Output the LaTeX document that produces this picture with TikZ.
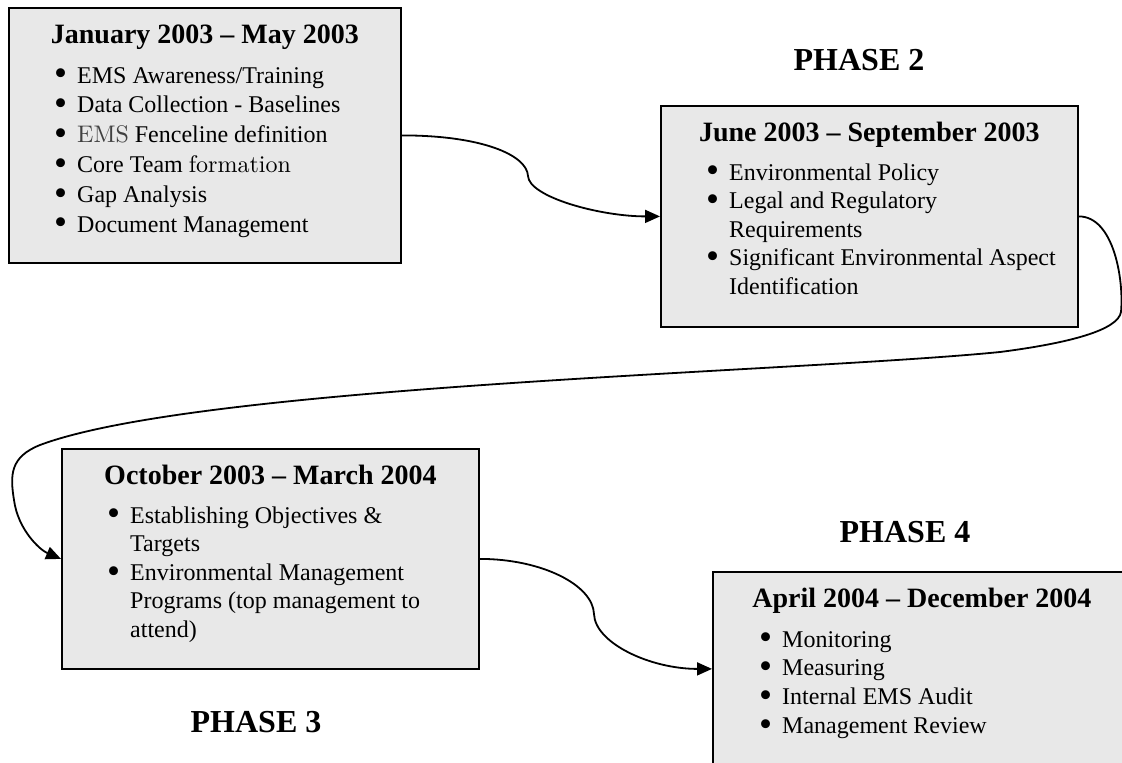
\documentclass[tikz,border=0pt]{standalone}
\usepackage{fontspec}
\setmainfont{Liberation Serif}
\newfontfamily\lmr{lmroman10-regular.otf}
\usetikzlibrary{arrows.meta,calc}
\definecolor{panel}{RGB}{232,232,232}
\tikzset{
  phasebox/.style={draw=black, fill=panel, line width=1.8pt, rectangle, inner sep=0pt, anchor=north west},
  heading/.style={font=\fontsize{28}{34}\selectfont\bfseries, anchor=base, inner sep=0pt},
  items/.style={anchor=base west, inner sep=0pt},
  phaselabel/.style={font=\fontsize{32}{38}\selectfont\bfseries, anchor=base, inner sep=0pt},
  link/.style={line width=1.8pt, -{Triangle[length=15pt,width=13pt]}},
}
% a round list bullet, a little larger than the text face's own
\newcommand\dotmark{\raisebox{-0.12em}{\scalebox{1.55}{\textbullet}}}
% one bulleted entry with a hanging indent for wrapped lines
\newcommand\itm[1]{\par\hangindent=22pt\hangafter=1\noindent\makebox[22pt][l]{\hspace{-1pt}\dotmark}#1\par}
% a block of entries; #1 = line pitch, #2 = entries
\newcommand\entries[2]{\begin{minipage}[t]{380pt}\fontsize{24}{#1}\selectfont\parskip=0pt\parindent=0pt #2\end{minipage}}

\begin{document}
\begin{tikzpicture}[x=1pt, y=-1pt]
  \useasboundingbox (0,0) rectangle (1122,763);
  \fill[white] (0,0) rectangle (1122,763);
  \clip (0,0) rectangle (1122,763);

  % phase boxes
  \node[phasebox, minimum width=392pt, minimum height=255pt] (b1) at (8,7) {};
  \node[phasebox, minimum width=417pt, minimum height=221pt] (b2) at (660,105) {};
  \node[phasebox, minimum width=417pt, minimum height=220pt] (b3) at (61,448) {};
  \node[phasebox, minimum width=418pt, minimum height=194pt] (b4) at (712,571) {};

  % headings
  \node[heading] (h1) at ($(b1.north)+(0,36)$) {January 2003 – May 2003};
  \node[heading] (h2) at ($(b2.north)+(0,36)$) {June 2003 – September 2003};
  \node[heading] (h3) at ($(b3.north)+(0,36)$) {October 2003 – March 2004};
  \node[heading] (h4) at ($(b4.north)+(0,36)$) {April 2004 – December 2004};

  % bulleted contents
  \node[items] (l1) at ($(b1.north west)+(47,76)$) {\entries{29.8pt}{%
    \itm{EMS Awareness/Training}
    \itm{Data Collection - Baselines}
    \itm{{\lmr\color{black!75}EMS} Fenceline definition}
    \itm{Core Team {\lmr formation}}
    \itm{Gap Analysis}
    \itm{Document Management}}};
  \node[items] (l2) at ($(b2.north west)+(47,75)$) {\entries{28.6pt}{%
    \itm{Environmental Policy}
    \itm{Legal and Regulatory\\Requirements}
    \itm{Significant Environmental Aspect\\Identification}}};
  \node[items] (l3) at ($(b3.north west)+(47,75)$) {\entries{28.6pt}{%
    \itm{Establishing Objectives \&\\Targets}
    \itm{Environmental Management\\Programs (top management to\\attend)}}};
  \node[items] (l4) at ($(b4.north west)+(48,76)$) {\entries{28.8pt}{%
    \itm{Monitoring}
    \itm{Measuring}
    \itm{Internal EMS Audit}
    \itm{Management Review}}};

  % phase captions
  \node[phaselabel] (p2) at (859,70) {PHASE 2};
  \node[phaselabel] (p3) at (256,732) {PHASE 3};
  \node[phaselabel] (p4) at (905,542) {PHASE 4};

  % connectors
  \draw[link] (b1.east) .. controls +(80,0) and (527,155) .. (528,176)
              .. controls (529,197) and ($(b2.west)+(-60,0)$) .. (b2.west);
  \draw[link] (b2.east) .. controls +(35,0) and (1124,280) .. (1121,312)
              .. controls (1118,330) and (1070,343) .. (1000,352)
              .. controls (800,372) and (200,385) .. (40,445)
              .. controls (10,457) and (10,475) .. (14,500)
              .. controls (18,530) and (40,550) .. (b3.west);
  \draw[link] (b3.east) .. controls +(62,0) and (593,585) .. (594,614)
              .. controls (595,643) and ($(b4.west)+(-62,0)$) .. (b4.west);
\end{tikzpicture}
\end{document}
